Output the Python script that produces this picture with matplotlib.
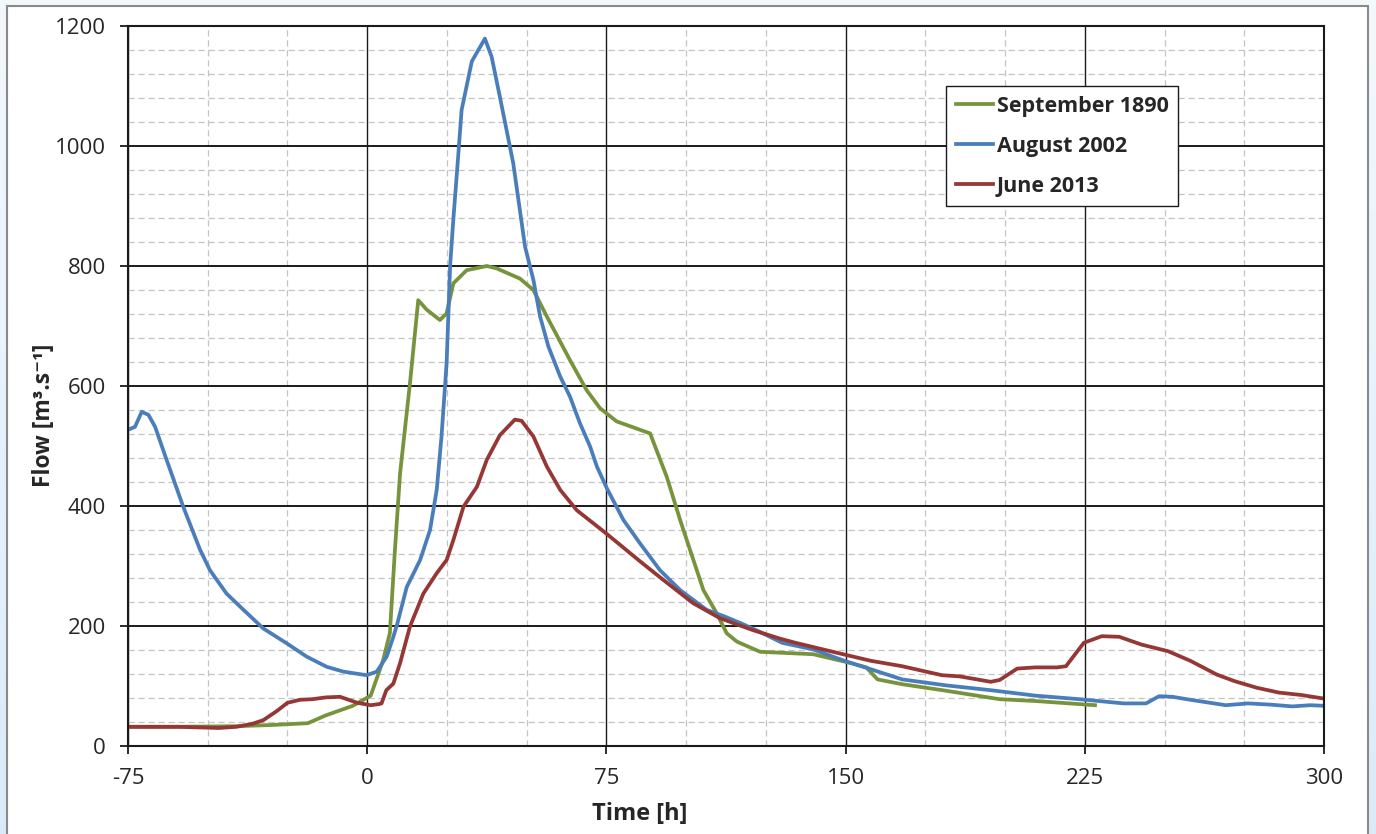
import numpy as np
import matplotlib
matplotlib.use("Agg")
import matplotlib.pyplot as plt
from matplotlib.patches import Rectangle
from matplotlib.ticker import MultipleLocator

# ---- flood hydrographs (time in hours relative to onset, flow in m3/s) ----
t_1890 = [-75, -60, -41, -30, -18.6, -13, -4.5, 1.1, 5, 7.1, 8.7, 10.3, 13.4, 16, 18.7,
          22.8, 24.9, 27, 31.2, 37.5, 40.6, 47.9, 52.1, 56.3, 63.6, 68.8, 73, 78.2, 88.7,
          93.9, 98.1, 105.4, 109.6, 112.7, 115.9, 123.2, 139.8, 151, 156.5, 160, 167.7,
          181.6, 198.3, 209.4, 228.2]
q_1890 = [32, 32, 33, 35, 38, 51, 67, 84, 143, 188, 327, 454, 604, 743, 727,
          710, 721, 771, 793, 800, 796, 779, 760, 716, 643, 593, 563, 541, 521,
          449, 377, 260, 221, 188, 174, 157, 153, 139, 131, 111, 103,
          92, 78, 75, 68]

t_2002 = [-75, -72.8, -70.7, -68.6, -66.5, -62.9, -57.7, -52.4, -49.3, -44.1, -38.8, -32.6,
          -25.2, -19, -12.7, -7.5, -0.2, 3, 6.1, 8.2, 9.5, 12.4, 16.6, 19.7, 21.8, 23.3,
          24.9, 26, 27, 28.6, 29.6, 32.8, 36.9, 39, 41.6, 45.8, 49.5, 52.1, 54.2, 56.8,
          60.5, 63.6, 66.7, 69.9, 72, 75.1, 80.3, 85.5, 91.8, 98.1, 106.4, 112, 117, 123.2,
          130.1, 139.8, 149.6, 157.9, 167.7, 181.6, 195.5, 209.4, 223.3, 237.2, 244.2,
          248.3, 252.5, 258.1, 269.2, 276.2, 283.1, 290.1, 295.6, 300]
q_2002 = [527, 532, 557, 552, 532, 477, 399, 327, 293, 254, 227, 196,
          171, 149, 132, 124, 118, 124, 149, 182, 205, 265, 310, 360, 427, 516,
          638, 800, 877, 988, 1060, 1141, 1179, 1149, 1082, 971, 832, 777, 716, 666,
          616, 582, 538, 499, 466, 430, 377, 338, 293, 260, 227, 216, 205, 190,
          172, 161, 142, 128, 111, 101, 93, 84, 78, 71, 71,
          83, 82, 77, 68, 71, 69, 66, 68, 67]

t_2013 = [-75, -59.2, -46.6, -41, -36, -32.6, -28.4, -25, -21.1, -17.2, -13, -8.5, -3.1,
          1.1, 3.9, 4.5, 6, 8.2, 10.3, 13.4, 17.6, 21.8, 24.9, 27, 30.2, 34.4, 37.5, 41.6,
          46.3, 48.4, 52.1, 56.3, 60.5, 65.7, 75, 85.5, 92.8, 102.2, 110.6, 121, 129.4,
          134.3, 146.8, 157.9, 167.7, 180.2, 185.8, 195.5, 198.3, 203.8, 209.4, 216.4,
          219.1, 224.7, 230.3, 235.8, 242.8, 251.1, 258.1, 266.4, 272, 279, 285.9, 292.9, 300]
q_2013 = [32, 32, 30, 32, 37, 43, 58, 72, 77, 78, 81, 82, 72,
          68, 70, 71, 93, 104, 138, 199, 254, 288, 310, 343, 399, 432, 477, 518,
          544, 542, 516, 466, 427, 393, 354, 308, 277, 238, 213, 193, 179,
          172, 156, 142, 133, 118, 116, 107, 110, 129, 131, 131,
          133, 172, 183, 182, 169, 158, 142, 119, 108, 97, 89, 85, 79]

series_labels = ["September 1890", "August 2002", "June 2013"]
series_colors = ["#77933c", "#4a7ebb", "#953735"]

x_ticks = [-75, 0, 75, 150, 225, 300]
y_ticks = [0, 200, 400, 600, 800, 1000, 1200]

FONT = ["Open Sans", "DejaVu Sans"]
plt.rcParams["font.family"] = FONT

W, H = 1376, 834
fig = plt.figure(figsize=(W / 100, H / 100), dpi=100)

# soft blue backdrop with a white panel
bg = fig.add_axes([0, 0, 1, 1], zorder=-10)
grad = np.linspace(0, 1, 256).reshape(-1, 1)
top_c = np.array([0.953, 0.973, 0.988])
bot_c = np.array([0.851, 0.925, 0.976])
img = top_c[None, None, :] * (1 - grad[:, :, None]) + bot_c[None, None, :] * grad[:, :, None]
bg.imshow(img, aspect="auto", extent=[0, 1, 0, 1], origin="upper")
bg.set_xlim(0, 1)
bg.set_ylim(0, 1)
bg.axis("off")
bg.add_patch(Rectangle((7 / W, -0.02), (1368 - 7) / W, 0.02 + (H - 6) / H,
                       facecolor="white", edgecolor="#8a8a8a", linewidth=1.5))

ax = fig.add_axes([128 / W, (H - 746) / H, 1196 / W, 720 / H])
ax.set_facecolor("white")

for t, q, lab, col in zip([t_1890, t_2002, t_2013], [q_1890, q_2002, q_2013],
                          series_labels, series_colors):
    ax.plot(t, q, color=col, lw=2.7, label=lab, solid_joinstyle="round")

ax.set_xlim(-75, 300)
ax.set_ylim(0, 1200)
ax.set_xticks(x_ticks)
ax.set_yticks(y_ticks)
ax.xaxis.set_minor_locator(MultipleLocator(25))
ax.yaxis.set_minor_locator(MultipleLocator(40))
ax.set_axisbelow(True)

ax.grid(which="minor", color="#c4c4c4", lw=0.9, linestyle=(0, (5, 3)))
ax.yaxis.grid(which="major", color="#1a1a1a", lw=1.4)
ax.xaxis.grid(which="major", color="#1a1a1a", lw=1.0)

for s in ax.spines.values():
    s.set_color("#1a1a1a")
    s.set_linewidth(1.5)

ax.tick_params(which="major", direction="out", length=6, width=1.3, color="#1a1a1a",
               labelsize=16, labelcolor="#262626")
ax.tick_params(axis="x", pad=10)
ax.tick_params(axis="y", pad=10)
ax.tick_params(which="minor", length=0)
ax.set_xticklabels([str(v) for v in x_ticks])
ax.set_yticklabels([str(v) for v in y_ticks])

ax.set_xlabel("Time [h]", fontsize=17, fontweight="bold", color="#262626")
ax.xaxis.set_label_coords((640 - 128) / 1196, -0.078)
ax.set_ylabel("Flow [m\u00b3.s\u207b\u00b9]", fontsize=16.5, fontweight="bold", color="#262626")
ax.yaxis.set_label_coords((56 - 128) / 1196, (746 - 415) / 720)

leg = ax.legend(loc="upper left", bbox_to_anchor=((946 - 128) / 1196, (746 - 86) / 720),
                borderaxespad=0, fancybox=False, frameon=True, framealpha=1,
                edgecolor="#1a1a1a", handlelength=1.75, handletextpad=0.15,
                labelspacing=0.88, borderpad=0.45,
                prop={"family": FONT, "weight": "bold", "size": 15.5})
leg.get_frame().set_linewidth(1.0)
for txt in leg.get_texts():
    txt.set_color("#262626")

fig.savefig("out.png", dpi=100)
